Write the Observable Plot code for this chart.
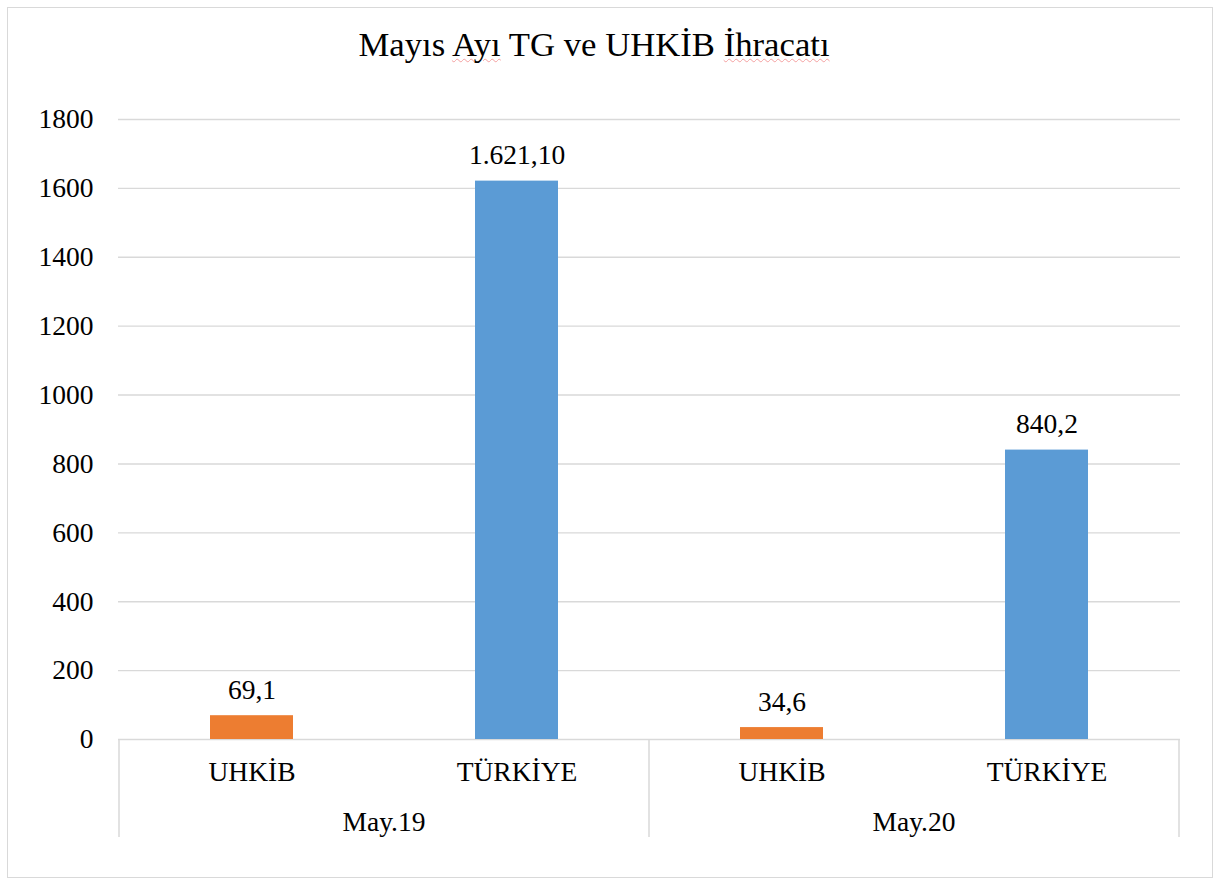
<!DOCTYPE html>
<html>
<head>
<meta charset="utf-8">
<script src="https://cdn.jsdelivr.net/npm/d3@7"></script>
<script src="https://cdn.jsdelivr.net/npm/@observablehq/plot@0.6"></script>
<style>
  html, body { margin: 0; padding: 0; background: #fff; }
  #page { position: relative; width: 1217px; height: 879px; overflow: hidden; font-family: "Liberation Serif", "Times New Roman", serif; }
  #border { position: absolute; left: 7px; top: 7px; width: 1206px; height: 871px; box-sizing: border-box; border: 1px solid #d9d9d9; }
  #title { position: absolute; left: 0; top: 27px; width: 1188px; text-align: center; font-family: "Liberation Serif", serif; font-size: 34.7px; line-height: 35px; color: #000; white-space: nowrap; }
  #title .sp { text-decoration-line: underline; text-decoration-style: wavy; text-decoration-color: #f4a0a0; text-decoration-thickness: 1px; text-underline-offset: 2px; }
  #chart { position: absolute; left: 0; top: 90px; }
  #chart svg, #chart svg text { font-family: "Liberation Serif", serif !important; }
</style>
</head>
<body>
<div id="page">
  <div id="border"></div>
  <div id="title">Mayıs <span class="sp">Ayı</span> TG ve UHKİB <span class="sp">İhracatı</span></div>
  <div id="chart"></div>
</div>
<script>
// ---- data ----
const months = ["May.19", "May.20"];
const series = ["UHKİB", "TÜRKİYE"];
const uhkibValues = [69.1, 34.6];
const turkiyeValues = [1621.1, 840.2];
const uhkibLabels = ["69,1", "34,6"];
const turkiyeLabels = ["1.621,10", "840,2"];
const yTicks = [0, 200, 400, 600, 800, 1000, 1200, 1400, 1600, 1800];
const seriesColors = ["#ED7D31", "#5B9BD5"];

// ---- table built from the arrays ----
const rows = [];
months.forEach((m, i) => {
  rows.push({month: m, series: series[0], key: m + "|" + series[0], value: uhkibValues[i], label: uhkibLabels[i]});
  rows.push({month: m, series: series[1], key: m + "|" + series[1], value: turkiyeValues[i], label: turkiyeLabels[i]});
});

const gridColor = "#d9d9d9";
const serif = "'Liberation Serif', serif";
const fs = 27.5;

// group axis (month labels + separators) drawn from the x scale
function groupAxis(index, scales, values, dims) {
  const x = scales.x;
  const bw = x.bandwidth ? x.bandwidth() : 0;
  const y0 = dims.height - dims.marginBottom;
  const g = d3.create("svg:g");
  let lastRight = null;
  months.forEach((m) => {
    const keys = rows.filter(r => r.month === m).map(r => r.key);
    const x0 = x(keys[0]);
    const x1 = x(keys[keys.length - 1]) + bw;
    lastRight = x1;
    g.append("line").attr("x1", x0).attr("x2", x0).attr("y1", y0).attr("y2", y0 + 98)
      .attr("stroke", gridColor).attr("stroke-width", 1.5);
    g.append("text").attr("x", (x0 + x1) / 2).attr("y", y0 + 91.5)
      .attr("text-anchor", "middle").attr("fill", "#000")
      .attr("font-family", serif).attr("font-size", fs).text(m);
  });
  g.append("line").attr("x1", lastRight).attr("x2", lastRight).attr("y1", y0).attr("y2", y0 + 98)
    .attr("stroke", gridColor).attr("stroke-width", 1.5);
  return g.node();
}

const chart = Plot.plot({
  width: 1217,
  height: 789,
  marginLeft: 118,
  marginRight: 37,
  marginTop: 29,
  marginBottom: 140,
  style: "font-family: 'Liberation Serif', serif; font-size: 27px; color: #000; background: transparent;",
  x: {type: "band", domain: rows.map(r => r.key), padding: 0, label: null},
  y: {domain: [0, 1800], label: null},
  color: {domain: series, range: seriesColors},
  marks: [
    Plot.gridY(yTicks, {stroke: gridColor, strokeOpacity: 1, strokeWidth: 1.4}),
    Plot.axisY(yTicks, {tickSize: 0, tickPadding: 25, label: null, fontSize: fs, fontFamily: serif, tickFormat: d => String(d)}),
    Plot.axisX({tickSize: 0, tickPadding: 22, label: null, fontSize: fs, fontFamily: serif, tickFormat: k => k.split("|")[1]}),
    Plot.barY(rows, {x: "key", y: "value", fill: "series", insetLeft: 91, insetRight: 91}),
    Plot.text(rows, {x: "key", y: "value", text: "label", lineAnchor: "bottom", dy: -17, fontSize: fs, fontFamily: serif, fill: "#000"}),
    groupAxis
  ]
});
document.getElementById("chart").appendChild(chart);
</script>
</body>
</html>
